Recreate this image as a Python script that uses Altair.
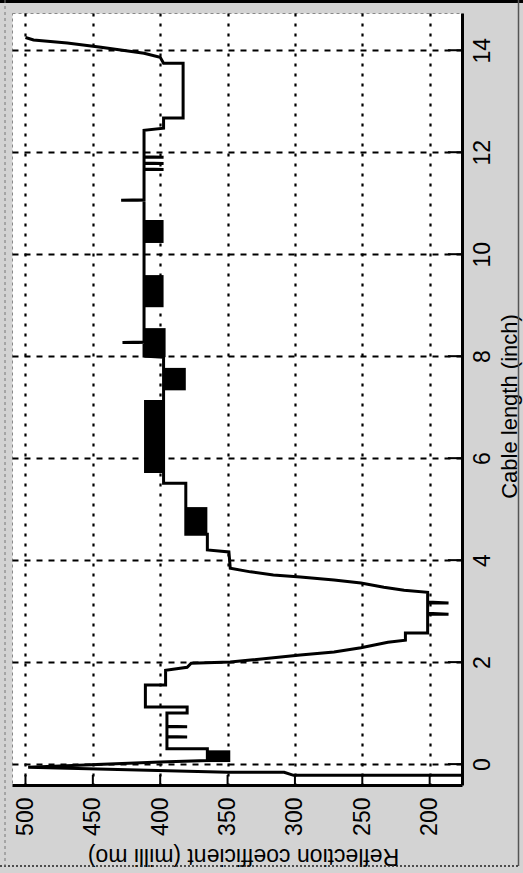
import altair as alt
import pandas as pd

# ---- measured trace: cable length (inch) vs reflection coefficient (milli rho)
cable_length = [
    -0.22, -0.22, -0.16, -0.16, -0.06, 0.04, 0.07,
    0.30, 0.30, 0.53, 0.53, 0.54, 0.73, 0.73, 0.74, 1.00, 1.00, 1.12, 1.12, 1.55, 1.55, 1.84,
    1.90, 1.98, 2.00, 2.04, 2.14, 2.20, 2.28, 2.39, 2.43, 2.57, 2.57, 2.94, 2.94, 2.96, 3.16, 3.16, 3.18, 3.37,
    3.41, 3.47, 3.55, 3.61, 3.67, 3.71, 3.77, 3.84, 4.16, 4.20, 4.51, 4.51, 5.51, 5.51, 7.98,
    8.00, 8.27, 8.27, 8.28, 11.06, 11.06, 11.07, 11.66, 11.66, 11.67, 11.78, 11.78, 11.79, 11.90, 11.90, 11.91,
    12.43, 12.47, 12.67, 12.67, 13.745, 13.745, 13.86, 13.94, 14.06, 14.14, 14.20, 14.25,
]
reflection = [
    176, 301, 308, 350, 498, 400, 365,
    365, 395, 395, 380, 395, 395, 380, 395, 395, 380, 380, 411, 411, 396, 396,
    380, 377, 348, 333, 296, 271, 251, 231, 218, 218, 201.5, 201.5, 186, 201.5, 201.5, 186, 201.5, 201.5,
    219, 234, 251, 271, 296, 316, 333, 348, 349, 365, 365, 381, 381, 397.5, 397.5,
    412, 412, 428, 412, 412, 429, 412, 412, 397.5, 412, 412, 397.5, 412, 412, 397.5, 412,
    412, 397.5, 397.5, 383, 383, 397.5, 400, 412, 444, 469, 494, 500,
]

# ---- noisy (rapidly oscillating) bands of the trace
band_len_lo = [0.04, 4.51, 5.71, 7.33, 7.98, 8.96, 10.22]
band_len_hi = [0.27, 5.04, 7.14, 7.77, 8.55, 9.59, 10.67]
band_ref_lo = [348, 365, 397.5, 381, 396, 397.5, 397.5]
band_ref_hi = [365, 381, 412, 397.5, 412, 412, 412]

# ---- axis ticks
length_ticks = [0, 2, 4, 6, 8, 10, 12, 14]
refl_ticks = [200, 250, 300, 350, 400, 450, 500]

W, H = 450, 772
FONT = "Liberation Sans"

trace_df = pd.DataFrame({"i": list(range(len(cable_length))),
                         "L": cable_length, "R": reflection})
band_df = pd.DataFrame({"l0": band_len_lo, "l1": band_len_hi,
                        "r0": band_ref_lo, "r1": band_ref_hi})

xscale = alt.Scale(domain=[176, 510], reverse=True, nice=False, zero=False)
yscale = alt.Scale(domain=[-0.41, 14.73], nice=False, zero=False)

xaxis = alt.Axis(
    orient="bottom", values=refl_ticks, title="Reflection coefficient (milli mo)",
    grid=True, gridColor="black", gridDash=[3, 7], gridWidth=2.2, gridOpacity=1,
    domain=True, domainColor="black", domainWidth=3, ticks=False,
    labelAngle=270, labelAlign="right", labelBaseline="middle", labelPadding=12,
    labelFont=FONT, labelFontSize=23, labelColor="black",
    titleFont=FONT, titleFontSize=23, titleFontWeight="normal", titleColor="black",
    titleAngle=180, titleX=231, titleY=70, titleAlign="center", titleBaseline="middle",
)
yaxis = alt.Axis(
    orient="right", values=length_ticks, title="Cable length (inch)",
    grid=True, gridColor="black", gridDash=[6, 6], gridWidth=2, gridOpacity=1,
    domain=True, domainColor="black", domainWidth=3, ticks=False,
    labelAngle=270, labelAlign="center", labelBaseline="top", labelPadding=9,
    labelFont=FONT, labelFontSize=23, labelColor="black",
    titleFont=FONT, titleFontSize=22, titleFontWeight="normal", titleColor="black",
    titleAngle=270, titleX=47, titleY=393, titleAlign="center", titleBaseline="middle",
)

bands = alt.Chart(band_df).mark_rect(color="black").encode(
    x=alt.X("r0:Q", scale=xscale, axis=xaxis),
    x2="r1:Q",
    y=alt.Y("l0:Q", scale=yscale, axis=yaxis),
    y2="l1:Q",
)

line = alt.Chart(trace_df).mark_line(
    color="black", strokeWidth=3, strokeJoin="miter", clip=True
).encode(
    x=alt.X("R:Q", scale=xscale, axis=xaxis),
    y=alt.Y("L:Q", scale=yscale, axis=yaxis),
    order=alt.Order("i:Q"),
)

yticks = alt.Chart(pd.DataFrame({"t": length_ticks})).mark_rule(
    color="black", strokeWidth=2
).encode(
    y=alt.Y("t:Q", scale=yscale, axis=yaxis),
    x=alt.value(W - 14), x2=alt.value(W),
)
xticks = alt.Chart(pd.DataFrame({"t": refl_ticks})).mark_rule(
    color="black", strokeWidth=2
).encode(
    x=alt.X("t:Q", scale=xscale, axis=xaxis),
    y=alt.value(H - 10), y2=alt.value(H),
)

one = pd.DataFrame({"k": [0]})
top_border = alt.Chart(one).mark_rule(color="black", strokeWidth=3, clip=False).encode(
    x=alt.value(-12), x2=alt.value(511), y=alt.value(-11.5))
right_border = alt.Chart(one).mark_rule(color="#555", strokeWidth=1.5, clip=False).encode(
    x=alt.value(506.5), y=alt.value(-13), y2=alt.value(853))
bottom_border = alt.Chart(one).mark_rule(color="#222", strokeWidth=1.5, strokeDash=[2, 2], clip=False).encode(
    x=alt.value(-12), x2=alt.value(506), y=alt.value(853))
left_border = alt.Chart(one).mark_rule(color="#777", strokeWidth=1, strokeDash=[3, 3], clip=False).encode(
    x=alt.value(-7), y=alt.value(-13), y2=alt.value(853))

chart = alt.layer(
    bands, line, yticks, xticks, top_border, right_border, bottom_border, left_border
).properties(
    width=W, height=H,
    background="#d3d3d3",
    padding={"left": 12, "top": 13, "right": 61, "bottom": 88},
    autosize=alt.AutoSizeParams(type="none"),
).configure_view(
    fill="white", stroke="#888", strokeDash=[3, 3], strokeWidth=1
)

chart.save("out.html", embed_options={"renderer": "svg", "actions": False})
